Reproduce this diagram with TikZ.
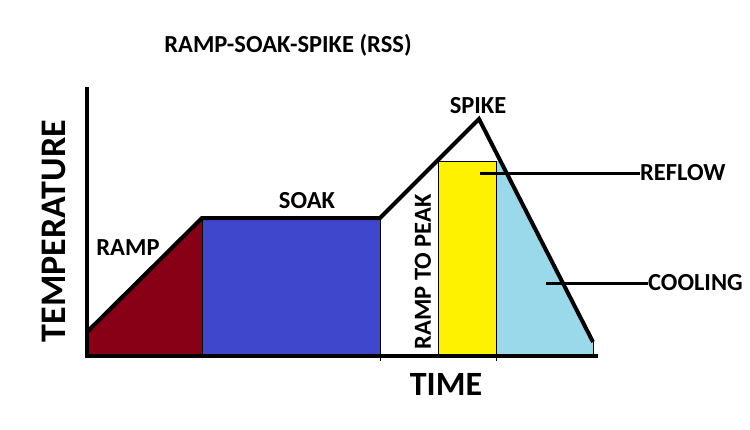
\documentclass[tikz,border=0pt]{standalone}
\usepackage{fontspec}
\setmainfont{Carlito}
\definecolor{rampred}{HTML}{880015}
\definecolor{soakblue}{HTML}{3F48CC}
\definecolor{reflowyel}{HTML}{FFF200}
\definecolor{coolblue}{HTML}{99D9EA}
\begin{document}
\begin{tikzpicture}[x=1pt,y=-1pt,
  thickline/.style={line width=4pt},
  leader/.style={line width=3pt},
  thinedge/.style={line width=0.8pt},
  lbl/.style={font=\fontsize{24.5}{26}\selectfont\bfseries, inner sep=0pt},
  axlbl/.style={font=\fontsize{34}{36}\selectfont\bfseries, inner sep=0pt}]
\useasboundingbox (0,0) rectangle (750,429);
% key points
\coordinate (ytop) at (87,87);
\coordinate (o) at (87,356);
\coordinate (xend) at (598,356);
\coordinate (r0) at (87,332);
\coordinate (r1) at (202,218);
\coordinate (s1) at (380,218);
\coordinate (pk) at (479,119);
\coordinate (ce) at (593,342);
\coordinate (rfl) at (480,173);
\coordinate (col) at (546,283);
% fills
\fill[rampred] (r0) -- (r1) -- (202,356) -- (o) -- cycle;
\fill[soakblue] (202,218) rectangle (380,356);
\fill[reflowyel] (438,161) rectangle (496,356);
\fill[coolblue] (496,161) -- (501,161) -- (ce) -- (593,356) -- (496,356) -- cycle;
% thin edges
\draw[thinedge] (202,218) -- (202,356);
\draw[thinedge] (380,218) -- (380,361);
\draw[thinedge] (438,356) -- (438,161) -- (496,161) -- (496,361);
\draw[thinedge] (593,342) -- (593,356);
% thick profile and axes
\draw[thickline] (ytop) -- (o) -- (xend);
\draw[thickline] (r0) -- (r1) -- (s1) -- (pk) -- (ce);
% labels
\node[lbl] (title) at (288,45) {RAMP-SOAK-SPIKE (RSS)};
\node[lbl] (spike) at (478,106) {SPIKE};
\node[lbl] (soak) at (307,201) {SOAK};
\node[lbl] (ramp) at (128,248) {RAMP};
\node[lbl, rotate=90] (rtp) at (423,272) {RAMP TO PEAK};
\node[lbl, anchor=west] (reflow) at (640,173) {REFLOW};
\node[lbl, anchor=west] (cooling) at (648,283) {COOLING};
\node[axlbl, font=\fontsize{36}{38}\selectfont\bfseries, rotate=90] (temp) at (54,231) {TEMPERATURE};
\node[axlbl] (time) at (446,384) {TIME};
% leader lines
\draw[leader] (rfl) -- (reflow.west);
\draw[leader] (col) -- (cooling.west);
\end{tikzpicture}
\end{document}
